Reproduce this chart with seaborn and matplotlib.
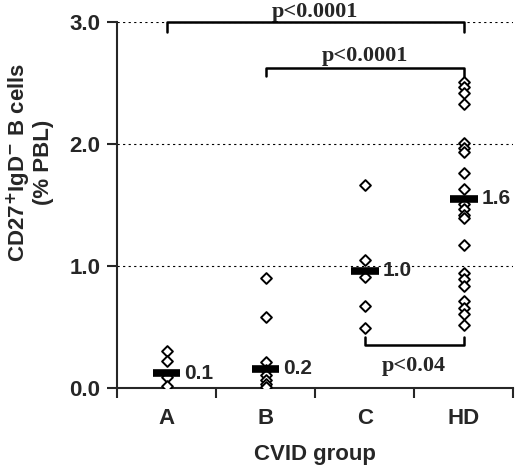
import numpy as np
import pandas as pd
import matplotlib
matplotlib.use("Agg")
import matplotlib.pyplot as plt
import seaborn as sns

groups = ["A", "B", "C", "HD"]
vals_a = [0.30, 0.22, 0.09, 0.02]
vals_b = [0.90, 0.58, 0.21, 0.15, 0.11, 0.07, 0.03, 0.01]
vals_c = [1.66, 1.05, 0.91, 0.67, 0.49]
vals_hd = [2.51, 2.47, 2.42, 2.33, 2.01, 1.97, 1.93, 1.76, 1.63, 1.51, 1.47,
           1.42, 1.39, 1.17, 0.94, 0.89, 0.84, 0.71, 0.66, 0.61, 0.52]
medians = [0.12, 0.16, 0.96, 1.55]
median_labels = ["0.1", "0.2", "1.0", "1.6"]
# (from group, to group, bracket height, tick end, text, text baseline)
brackets = [("A", "HD", 3.0, 2.92, "p<0.0001", 3.04),
            ("B", "HD", 2.62, 2.56, "p<0.0001", 2.68),
            ("C", "HD", 0.35, 0.42, "p<0.04", 0.14)]

df = pd.DataFrame({
    "group": ["A"] * len(vals_a) + ["B"] * len(vals_b) + ["C"] * len(vals_c) + ["HD"] * len(vals_hd),
    "value": vals_a + vals_b + vals_c + vals_hd,
})

sns.set_style("ticks")
plt.rcParams["font.family"] = ["Liberation Sans", "DejaVu Sans"]

fig = plt.figure(figsize=(5.2, 4.75), dpi=100)
ax = fig.add_axes([0.225, 0.183, 0.762, 0.771])

sns.stripplot(data=df, x="group", y="value", order=groups, jitter=False,
              marker="D", size=5.5, color="white", edgecolor="black",
              linewidth=1.4, ax=ax, zorder=3)

for i, (m, lab) in enumerate(zip(medians, median_labels)):
    ax.plot([i - 0.14, i + 0.14], [m, m], color="black", lw=5.5,
            solid_capstyle="butt", zorder=4)
    ax.text(i + 0.18, m, lab, ha="left", va="center", fontsize=15,
            fontweight="bold")

for g1, g2, h, tip, txt, tb in brackets:
    x1, x2 = groups.index(g1), groups.index(g2)
    ax.plot([x1, x1, x2, x2], [tip, h, h, tip], color="black",
            lw=1.8, clip_on=False, zorder=5)
    ax.text((x1 + x2) / 2, tb, txt, ha="center", va="baseline",
            fontsize=16, fontweight="bold", family=["Liberation Serif"],
            clip_on=False)

for yv in [1.0, 2.0, 3.0]:
    ax.axhline(yv, color="black", lw=0.8, ls=(0, (2, 3)), zorder=1)

ax.set_xlim(-0.5, 3.5)
ax.set_ylim(0, 3.0)
ax.set_yticks([0, 1, 2, 3])
ax.set_yticklabels(["0.0", "1.0", "2.0", "3.0"])
ax.set_xticks(range(4))
ax.set_xticklabels(groups)
ax.set_xticks([-0.5, 0.5, 1.5, 2.5, 3.5], minor=True)
ax.tick_params(axis="x", which="major", length=0, pad=14)
ax.tick_params(axis="x", which="minor", length=7, width=1.5)
ax.tick_params(axis="y", length=7, width=1.5, pad=5)
for lab in ax.get_xticklabels() + ax.get_yticklabels():
    lab.set_fontsize(16)
    lab.set_fontweight("bold")

sns.despine(ax=ax)
for s in ["left", "bottom"]:
    ax.spines[s].set_linewidth(1.5)

ax.set_xlabel("CVID group", fontsize=16, fontweight="bold", labelpad=11)
ax.set_ylabel("CD27$^\\mathbf{+}$IgD$^\\mathbf{-}$ B cells\n(% PBL)", fontsize=16,
              fontweight="bold", linespacing=1.0)
ax.yaxis.set_label_coords(-0.16, 0.617)

fig.savefig("out.png", dpi=100)
